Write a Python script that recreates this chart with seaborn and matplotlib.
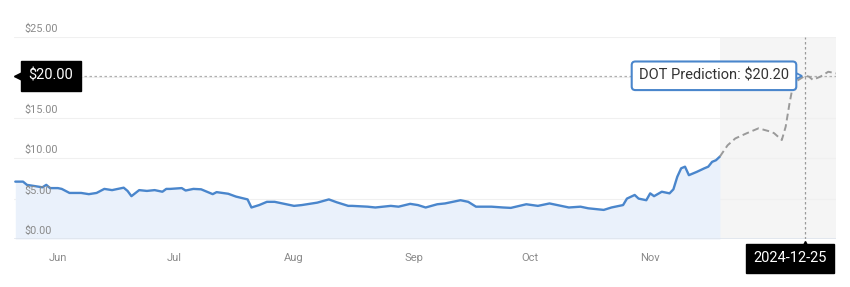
import matplotlib
matplotlib.use("Agg")
import matplotlib.pyplot as plt
import matplotlib.transforms as mtransforms
import pandas as pd
import seaborn as sns

# ---------------- data ----------------
hist_dates = [
    "2024-06-04", "2024-06-06", "2024-06-07", "2024-06-09", "2024-06-11", "2024-06-12",
    "2024-06-13", "2024-06-15", "2024-06-16", "2024-06-18", "2024-06-21", "2024-06-23",
    "2024-06-25", "2024-06-27", "2024-06-29", "2024-07-02", "2024-07-03", "2024-07-04",
    "2024-07-06", "2024-07-08", "2024-07-10", "2024-07-12", "2024-07-13", "2024-07-14",
    "2024-07-17", "2024-07-18", "2024-07-20", "2024-07-22", "2024-07-25", "2024-07-26",
    "2024-07-29", "2024-07-31", "2024-08-03", "2024-08-04", "2024-08-06", "2024-08-08",
    "2024-08-10", "2024-08-12", "2024-08-15", "2024-08-17", "2024-08-21", "2024-08-24",
    "2024-08-26", "2024-08-29", "2024-08-30", "2024-09-03", "2024-09-05", "2024-09-09",
    "2024-09-11", "2024-09-14", "2024-09-16", "2024-09-18", "2024-09-21", "2024-09-23",
    "2024-09-27", "2024-09-29", "2024-10-01", "2024-10-05", "2024-10-08", "2024-10-10",
    "2024-10-14", "2024-10-17", "2024-10-20", "2024-10-23", "2024-10-25", "2024-10-28",
    "2024-10-30", "2024-11-03", "2024-11-05", "2024-11-08", "2024-11-09", "2024-11-11",
    "2024-11-12", "2024-11-14", "2024-11-15", "2024-11-16", "2024-11-18", "2024-11-20",
    "2024-11-21", "2024-11-22", "2024-11-23", "2024-11-24", "2024-11-25", "2024-11-27",
    "2024-11-29", "2024-11-30", "2024-12-01", "2024-12-02", "2024-12-03",
]
hist_values = [
    7.10, 7.10, 6.70, 6.55, 6.40, 6.70,
    6.30, 6.30, 6.20, 5.70, 5.70, 5.55,
    5.70, 6.20, 6.05, 6.35, 5.95, 5.30,
    6.05, 5.95, 6.05, 5.85, 6.20, 6.20,
    6.30, 6.00, 6.20, 6.15, 5.55, 5.80,
    5.60, 5.25, 4.90, 3.90, 4.20, 4.60,
    4.60, 4.40, 4.10, 4.20, 4.50, 4.90,
    4.55, 4.10, 4.10, 4.00, 3.90, 4.10,
    4.00, 4.35, 4.20, 3.90, 4.30, 4.40,
    4.80, 4.60, 4.00, 4.00, 3.90, 3.85,
    4.30, 4.10, 4.40, 4.10, 3.90, 4.00,
    3.80, 3.60, 3.90, 4.20, 5.00, 5.45,
    5.00, 4.80, 5.65, 5.30, 5.85, 5.65,
    6.15, 7.70, 8.75, 8.95, 7.90, 8.30,
    8.75, 8.95, 9.55, 9.75, 10.20,
]
fc_dates = [
    "2024-12-03", "2024-12-05", "2024-12-07", "2024-12-10", "2024-12-13", "2024-12-16",
    "2024-12-17", "2024-12-19", "2024-12-20", "2024-12-21", "2024-12-22", "2024-12-25",
    "2024-12-26", "2024-12-27", "2024-12-29", "2024-12-31", "2025-01-02",
]
fc_values = [
    10.20, 11.60, 12.45, 13.10, 13.70, 13.30,
    13.10, 12.25, 13.90, 16.80, 19.30, 20.20,
    20.10, 19.70, 20.10, 20.70, 20.50,
]
month_ticks = ["2024-06-15", "2024-07-15", "2024-08-15", "2024-09-15", "2024-10-15", "2024-11-15"]
month_labels = ["Jun", "Jul", "Aug", "Sep", "Oct", "Nov"]
y_ticks = [0, 5, 10, 15, 20, 25]
y_labels = ["$0.00", "$5.00", "$10.00", "$15.00", "$20.00", "$25.00"]
pred_date = "2024-12-25"
pred_value = 20.20
cross_label = "$20.00"
tooltip_label = "DOT Prediction: $20.20"

# ---------------- style ----------------
sns.set_style("white")
plt.rcParams["font.family"] = ["Roboto", "DejaVu Sans"]

hist = pd.DataFrame({"date": pd.to_datetime(hist_dates), "price": hist_values})
fc = pd.DataFrame({"date": pd.to_datetime(fc_dates), "price": fc_values})

W, H = 850, 287
fig = plt.figure(figsize=(W / 100, H / 100), dpi=100)
ax = fig.add_axes([14 / W, 48 / H, 822 / W, 202 / H])

BLUE = "#4a86cc"
GREY_TXT = "#8a8a8a"

x0 = hist["date"].iloc[0] - pd.Timedelta(hours=8)
x1 = fc["date"].iloc[-1]

# forecast background
ax.axvspan(fc["date"].iloc[0], x1, color="#f5f5f5", zorder=0, lw=0)

# gridlines
for y in y_ticks[1:]:
    ax.axhline(y, color="#f0f0f0", lw=0.8, zorder=1)
ax.axhline(0, color="#dde3ec", lw=1.8, zorder=2)

# area + lines
ax.fill_between(hist["date"], hist["price"], 0, color="#eaf1fb", lw=0, zorder=1.5)
sns.lineplot(data=hist, x="date", y="price", ax=ax, color=BLUE, lw=1.7, zorder=4)
sns.lineplot(data=fc, x="date", y="price", ax=ax, color="#9a9a9a", lw=1.4, zorder=4,
             dashes=False, linestyle=(0, (3.5, 2)))

# crosshair
ax.axhline(pred_value, color="#b0b0b0", lw=0.9, ls=(0, (2, 2)), zorder=3)
ax.axvline(pd.Timestamp(pred_date), color="#9a9a9a", lw=0.9, ls=(0, (2, 2)), zorder=3)

ax.set_xlim(x0, x1)
ax.set_ylim(0, 25)

# y labels inside plot (the $20.00 one sits under the crosshair label box)
for y, lbl in zip(y_ticks, y_labels):
    if y == 20:
        continue
    ax.annotate(lbl, xy=(10 / 822, y), xycoords=("axes fraction", "data"),
                xytext=(0, 2.2), textcoords="offset points", ha="left", va="bottom",
                fontsize=7.8, color=GREY_TXT, annotation_clip=False, zorder=5)

# x ticks
ax.set_xticks(pd.to_datetime(month_ticks))
ax.set_xticklabels(month_labels)
ax.tick_params(axis="x", length=0, pad=10, labelsize=8, labelcolor=GREY_TXT)
ax.set_yticks([])
ax.set_xlabel("")
ax.set_ylabel("")
for s in ax.spines.values():
    s.set_visible(False)

# crosshair y label box
blend_y = mtransforms.blended_transform_factory(ax.transAxes, ax.transData)
ax.text(37 / 822, pred_value, cross_label, transform=blend_y, ha="center", va="center",
        fontsize=10.5, color="white", zorder=8,
        bbox=dict(boxstyle="square,pad=0.55", fc="black", ec="black"))
ax.plot([4 / 822], [pred_value], marker="<", ms=6, color="black", transform=blend_y,
        clip_on=False, zorder=8)

# tooltip
ax.text(700 / 822, pred_value, tooltip_label, transform=blend_y, ha="center", va="center",
        fontsize=10.5, color="#333333", zorder=9,
        bbox=dict(boxstyle="round,pad=0.5,rounding_size=0.25", fc="white", ec=BLUE, lw=1.5))
ax.plot([784 / 822], [pred_value], marker=">", ms=6, mfc="white", mec=BLUE, mew=1.3,
        transform=blend_y, clip_on=False, zorder=8.5)

# date label box
fig.text(790 / W, 1 - 258.5 / H, pred_date, ha="center", va="center", fontsize=10.5,
         color="white", zorder=9,
         bbox=dict(boxstyle="square,pad=0.5", fc="black", ec="black"))
blend_x = mtransforms.blended_transform_factory(ax.transData, ax.transAxes)
ax.plot([pd.Timestamp(pred_date)], [-5 / 202], marker="^", ms=5, color="black",
        transform=blend_x, clip_on=False, zorder=9)

fig.savefig("out.png", dpi=100, facecolor="white")
